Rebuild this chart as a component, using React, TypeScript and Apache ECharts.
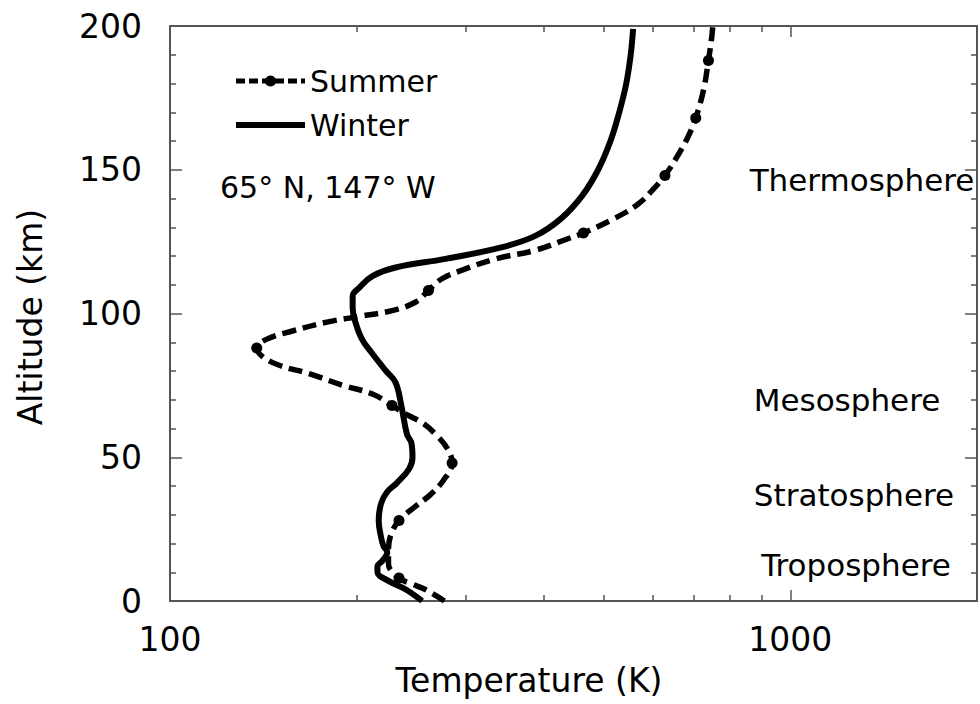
import React, { useEffect, useRef } from "react";
import * as echarts from "echarts";

// Summer profile: altitude (km) and temperature (K)
const summerAlt = [0, 4, 6, 8, 13, 18, 23, 28, 33, 37, 42, 48, 53, 58, 62, 65, 68, 72, 75, 79, 82, 85, 88, 91, 94, 97, 99, 101, 104, 108, 112, 115, 119, 122, 126, 128, 133, 138, 143, 148, 156, 162, 168, 178, 188, 196, 200];
const summerTemp = [277, 258, 245, 234, 225, 225, 227, 234, 249, 263, 276, 285, 280, 268, 255, 240, 228, 212, 190, 168, 150, 141, 138, 143, 158, 179, 202, 228, 249, 261, 274, 295, 335, 388, 438, 464, 520, 568, 600, 628, 663, 686, 704, 725, 738, 747, 750];
// Altitudes where the summer profile carries a dot marker
const summerMarkerAlt = [8, 28, 48, 68, 88, 108, 128, 148, 168, 188];

// Winter profile
const winterAlt = [0, 4, 7, 10, 12, 14, 17, 19, 22, 28, 34, 38, 41, 46, 50, 55, 58, 68, 76, 80, 86, 91, 97, 102, 106, 109, 113, 116, 119, 123, 127, 133, 141, 150, 160, 170, 180, 190, 199];
const winterTemp = [255, 240, 225, 216, 216, 220, 224, 221, 219, 217, 219, 224, 232, 243, 246, 245, 241, 236, 231, 223, 212, 204, 199, 197, 197, 202, 212, 231, 278, 342, 388, 427, 462, 490, 513, 530, 544, 553, 558];

const xLabelValues = [100, 1000];
const xMinorTicks = [200, 300, 400, 500, 600, 700, 800, 900];
const regionNames = ["Thermosphere", "Mesosphere", "Stratosphere", "Troposphere"];
const locationText = "65° N, 147° W";

const FONT = "DejaVu Sans";
const AXIS_COLOR = "#555";

export default function App() {
  const ref = useRef<HTMLDivElement>(null);

  useEffect(() => {
    if (!ref.current) return;
    const chart = echarts.init(ref.current, undefined, { renderer: "svg" });

    const xMin = 100;
    const xMax = 2000;
    const logMin = Math.log10(xMin);
    const logMax = Math.log10(xMax);

    const summerData = summerAlt.map((z, i) => ({
      value: [summerTemp[i], z],
      symbol: summerMarkerAlt.includes(z) ? "circle" : "none",
    }));
    const winterData = winterAlt.map((z, i) => [winterTemp[i], z]);

    const majorX = (pos: "top" | "bottom", showLabel: boolean) => ({
      type: "log",
      logBase: 10,
      min: xMin,
      max: xMax,
      position: pos,
      gridIndex: 0,
      axisLine: { show: true, lineStyle: { color: AXIS_COLOR, width: 2 } },
      axisTick: { show: true, inside: true, length: 11, lineStyle: { color: AXIS_COLOR, width: 1.5 } },
      axisLabel: {
        show: showLabel,
        margin: 22,
        color: "#000",
        fontSize: 33,
        fontFamily: FONT,
        formatter: (v: number) => (xLabelValues.some((t) => Math.abs(t - v) < 1e-6) ? String(v) : ""),
      },
      splitLine: { show: false },
    });

    const minorX = (pos: "top" | "bottom") => ({
      type: "value",
      min: logMin,
      max: logMax,
      position: pos,
      gridIndex: 0,
      axisLine: { show: false },
      axisTick: {
        show: true,
        inside: true,
        length: 6,
        customValues: xMinorTicks.map((t) => Math.log10(t)),
        lineStyle: { color: AXIS_COLOR, width: 1.5 },
      },
      axisLabel: { show: false },
      splitLine: { show: false },
    });

    const yAxis = (pos: "left" | "right", showLabel: boolean) => ({
      type: "value",
      min: 0,
      max: 200,
      interval: 50,
      position: pos,
      axisLine: { show: true, lineStyle: { color: AXIS_COLOR, width: 2 } },
      axisTick: { show: true, inside: true, length: 12, lineStyle: { color: AXIS_COLOR, width: 1.5 } },
      minorTick: { show: true, splitNumber: 5, length: 6, lineStyle: { color: AXIS_COLOR, width: 1.5 } },
      axisLabel: { show: showLabel, margin: 28, color: "#000", fontSize: 33, fontFamily: FONT },
      splitLine: { show: false },
    });

    const regionPositions = [
      [862, 180],
      [847, 400],
      [854, 495],
      [856, 565],
    ];

    chart.setOption({
      animation: false,
      backgroundColor: "#fff",
      grid: { left: 170, right: 1, top: 26, bottom: 103, containLabel: false },
      xAxis: [majorX("bottom", true), minorX("bottom"), majorX("top", false), minorX("top")],
      yAxis: [yAxis("left", true), yAxis("right", false)],
      legend: {
        orient: "vertical",
        left: 228,
        top: 61,
        itemWidth: 69,
        itemHeight: 14,
        itemGap: 14,
        textStyle: { color: "#000", fontSize: 30, fontFamily: FONT },
        data: [
          { name: "Summer", lineStyle: { width: 5, type: [9, 4] } },
          { name: "Winter", lineStyle: { width: 6 }, itemStyle: { opacity: 0 } },
        ],
      },
      series: [
        {
          name: "Summer",
          type: "line",
          xAxisIndex: 0,
          yAxisIndex: 0,
          data: summerData,
          smooth: 0.4,
          symbol: "circle",
          symbolSize: 11,
          showSymbol: true,
          color: "#000",
          itemStyle: { color: "#000" },
          lineStyle: { color: "#000", width: 5.5, type: [14, 7] },
          clip: true,
        },
        {
          name: "Winter",
          type: "line",
          xAxisIndex: 0,
          yAxisIndex: 0,
          data: winterData,
          smooth: 0.4,
          symbol: "none",
          color: "#000",
          itemStyle: { color: "#000" },
          lineStyle: { color: "#000", width: 6 },
          clip: true,
        },
      ],
      graphic: [
        {
          type: "text",
          x: 220,
          y: 187,
          style: { text: locationText, fill: "#000", fontSize: 30, fontFamily: FONT, textAlign: "left", textVerticalAlign: "middle" },
        },
        ...regionNames.map((name, i) => ({
          type: "text",
          x: regionPositions[i][0],
          y: regionPositions[i][1],
          style: { text: name, fill: "#000", fontSize: 31, fontFamily: FONT, textAlign: "center", textVerticalAlign: "middle" },
        })),
        {
          type: "text",
          x: 529,
          y: 680,
          style: { text: "Temperature (K)", fill: "#000", fontSize: 33, fontFamily: FONT, textAlign: "center", textVerticalAlign: "middle" },
        },
        {
          type: "text",
          x: 30,
          y: 317,
          rotation: Math.PI / 2,
          style: { text: "Altitude (km)", fill: "#000", fontSize: 33, fontFamily: FONT, textAlign: "center", textVerticalAlign: "middle" },
        },
      ],
    });

    return () => chart.dispose();
  }, []);

  return <div ref={ref} style={{ position: "fixed", left: 0, top: 0, width: 980, height: 704 }} />;
}
